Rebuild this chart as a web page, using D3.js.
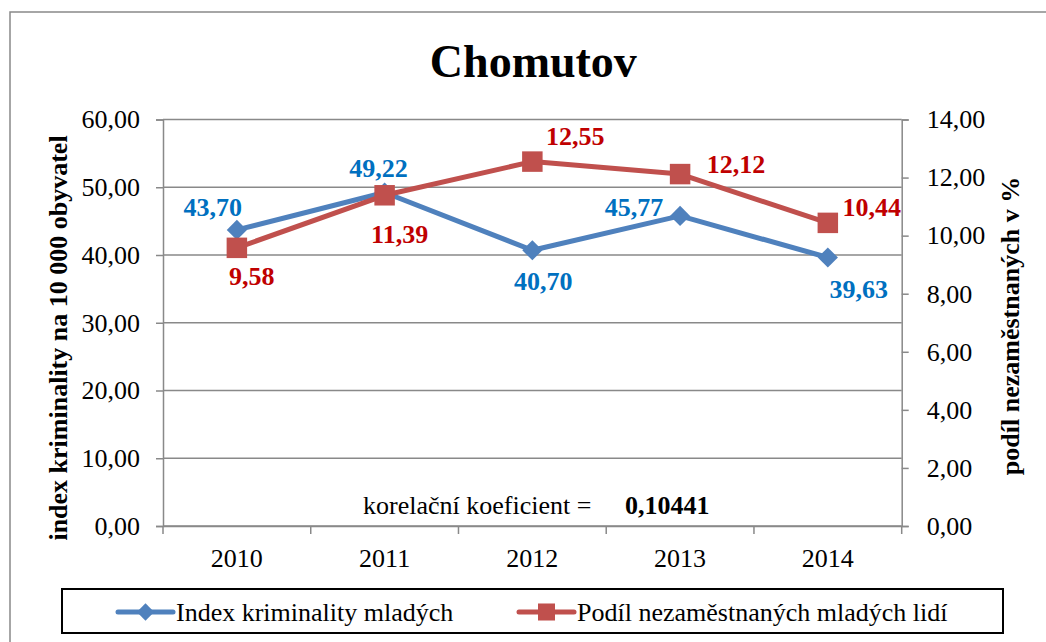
<!DOCTYPE html>
<html>
<head>
<meta charset="utf-8">
<script src="https://cdn.jsdelivr.net/npm/d3@7"></script>
<style>
  body { margin: 0; background: #fff; }
  svg text { font-family: "Liberation Serif", "Times New Roman", serif; }
</style>
</head>
<body>
<svg id="chart" width="1046" height="642"></svg>
<script>
// data
var years = ["2010", "2011", "2012", "2013", "2014"];
var crimeIndex = [43.70, 49.22, 40.70, 45.77, 39.63];
var unemployed = [9.58, 11.39, 12.55, 12.12, 10.44];
var leftTicks = [0, 10, 20, 30, 40, 50, 60];
var rightTicks = [0, 2, 4, 6, 8, 10, 12, 14];
var seriesNames = ["Index kriminality mladých", "Podíl nezaměstnaných mladých lidí"];
var correlation = "0,10441";

// label offsets from their point (dx, dy) - placed by hand like in the source sheet
var crimeLabelOff = [[-24, -14], [-6, -16], [11, 40], [-46, 0], [31, 40]];
var unempLabelOff = [[15, 37], [15, 48], [43, -17], [56, -1], [44, -7]];

var plot = { left: 163, right: 901.7, top: 119.5, bottom: 526 };
var blue = "#4F81BD", red = "#C0504D";
var blueTxt = "#0070C0", redTxt = "#C00000";
var gridCol = "#898989";
var serif = "'Liberation Serif', 'Times New Roman', serif";

var fmt = function(v) { return d3.format(".2f")(v).replace(".", ","); };

var svg = d3.select("#chart");

// outer chart border (runs past the picture at right and bottom)
svg.append("rect")
    .attr("x", 10).attr("y", 12)
    .attr("width", 1100).attr("height", 700)
    .attr("fill", "#fff")
    .attr("stroke", gridCol).attr("stroke-width", 1.5);

var x = d3.scaleBand().domain(years).range([plot.left, plot.right]).padding(0);
var xEdge = d3.scaleLinear().domain([0, years.length]).range([plot.left, plot.right]);
var yL = d3.scaleLinear().domain([0, 60]).range([plot.bottom, plot.top]);
var yR = d3.scaleLinear().domain([0, 14]).range([plot.bottom, plot.top]);
var cx = function(i) { return x(years[i]) + x.bandwidth() / 2; };

// title
svg.append("text")
    .attr("x", (plot.left + plot.right) / 2 + 1).attr("y", 77)
    .attr("text-anchor", "middle")
    .attr("font-size", 46).attr("font-weight", "bold")
    .text("Chomutov");

// gridlines
svg.append("g").selectAll("line")
    .data(leftTicks)
    .join("line")
    .attr("x1", plot.left).attr("x2", plot.right)
    .attr("y1", function(d) { return yL(d); })
    .attr("y2", function(d) { return yL(d); })
    .attr("stroke", gridCol).attr("stroke-width", 1.5);

// left axis
var axL = svg.append("g")
    .attr("transform", "translate(" + plot.left + ",0)")
    .call(d3.axisLeft(yL).tickValues(leftTicks).tickFormat(fmt).tickSize(7).tickPadding(16));
axL.select(".domain").attr("stroke", gridCol).attr("stroke-width", 1.5);
axL.selectAll(".tick line").attr("stroke", gridCol).attr("stroke-width", 1.5);
axL.selectAll(".tick text").attr("font-size", 26).attr("fill", "#000");

// right axis
var axR = svg.append("g")
    .attr("transform", "translate(" + plot.right + ",0)")
    .call(d3.axisRight(yR).tickValues(rightTicks).tickFormat(fmt).tickSize(7).tickPadding(18));
axR.select(".domain").attr("stroke", gridCol).attr("stroke-width", 1.5);
axR.selectAll(".tick line").attr("stroke", gridCol).attr("stroke-width", 1.5);
axR.selectAll(".tick text").attr("font-size", 26).attr("fill", "#000");

// bottom axis: labels centred in bands, tick marks on band edges
var axB = svg.append("g")
    .attr("transform", "translate(0," + plot.bottom + ")")
    .call(d3.axisBottom(x).tickSize(0).tickPadding(23));
axB.select(".domain").attr("stroke", gridCol).attr("stroke-width", 1.5);
axB.selectAll(".tick text").attr("font-size", 26).attr("fill", "#000");
svg.append("g").selectAll("line")
    .data(d3.range(years.length + 1))
    .join("line")
    .attr("x1", function(d) { return xEdge(d); })
    .attr("x2", function(d) { return xEdge(d); })
    .attr("y1", plot.bottom).attr("y2", plot.bottom + 8)
    .attr("stroke", gridCol).attr("stroke-width", 1.5);

// axis titles
svg.append("text")
    .attr("transform", "translate(67,338) rotate(-90)")
    .attr("text-anchor", "middle")
    .attr("font-size", 26).attr("font-weight", "bold")
    .text("index kriminality na 10 000 obyvatel");
svg.append("text")
    .attr("transform", "translate(1019,326) rotate(-90)")
    .attr("text-anchor", "middle")
    .attr("font-size", 26).attr("font-weight", "bold")
    .text("podíl nezaměstnaných v %");

// series lines
var lineL = d3.line().x(function(d, i) { return cx(i); }).y(function(d) { return yL(d); });
var lineR = d3.line().x(function(d, i) { return cx(i); }).y(function(d) { return yR(d); });

svg.append("path").datum(crimeIndex)
    .attr("d", lineL).attr("fill", "none")
    .attr("stroke", blue).attr("stroke-width", 5).attr("stroke-linejoin", "round");
svg.append("path").datum(unemployed)
    .attr("d", lineR).attr("fill", "none")
    .attr("stroke", red).attr("stroke-width", 5).attr("stroke-linejoin", "round");

var diamond = d3.symbol().type(d3.symbolDiamond2).size(260);
var square = d3.symbol().type(d3.symbolSquare).size(420);

svg.append("g").selectAll("path")
    .data(crimeIndex)
    .join("path")
    .attr("d", diamond)
    .attr("transform", function(d, i) { return "translate(" + cx(i) + "," + yL(d) + ")"; })
    .attr("fill", blue);
svg.append("g").selectAll("path")
    .data(unemployed)
    .join("path")
    .attr("d", square)
    .attr("transform", function(d, i) { return "translate(" + cx(i) + "," + yR(d) + ")"; })
    .attr("fill", red);

// data labels
svg.append("g").selectAll("text")
    .data(crimeIndex)
    .join("text")
    .attr("x", function(d, i) { return cx(i) + crimeLabelOff[i][0]; })
    .attr("y", function(d, i) { return yL(d) + crimeLabelOff[i][1]; })
    .attr("text-anchor", "middle")
    .attr("font-size", 26).attr("font-weight", "bold")
    .attr("fill", blueTxt)
    .text(fmt);
svg.append("g").selectAll("text")
    .data(unemployed)
    .join("text")
    .attr("x", function(d, i) { return cx(i) + unempLabelOff[i][0]; })
    .attr("y", function(d, i) { return yR(d) + unempLabelOff[i][1]; })
    .attr("text-anchor", "middle")
    .attr("font-size", 26).attr("font-weight", "bold")
    .attr("fill", redTxt)
    .text(fmt);

// correlation note
svg.append("text")
    .attr("x", 363).attr("y", 514)
    .attr("font-size", 26)
    .text("korelační koeficient =");
svg.append("text")
    .attr("x", 625).attr("y", 514)
    .attr("font-size", 26).attr("font-weight", "bold")
    .text(correlation);

// legend
var leg = svg.append("g");
leg.append("rect")
    .attr("x", 62).attr("y", 589)
    .attr("width", 941).attr("height", 44)
    .attr("fill", "#fff").attr("stroke", "#000").attr("stroke-width", 2);

var legItems = [
  { x: 118, color: blue, sym: d3.symbol().type(d3.symbolDiamond2).size(190), name: seriesNames[0] },
  { x: 519, color: red, sym: d3.symbol().type(d3.symbolSquare).size(290), name: seriesNames[1] }
];
var li = leg.selectAll("g.item")
    .data(legItems)
    .join("g")
    .attr("class", "item")
    .attr("transform", function(d) { return "translate(" + d.x + ",612)"; });
li.append("line")
    .attr("x1", 0).attr("x2", 55)
    .attr("stroke", function(d) { return d.color; })
    .attr("stroke-width", 5).attr("stroke-linecap", "round");
li.append("path")
    .attr("d", function(d) { return d.sym(); })
    .attr("transform", "translate(27.5,0)")
    .attr("fill", function(d) { return d.color; });
li.append("text")
    .attr("x", 58).attr("y", 9)
    .attr("font-size", 26)
    .text(function(d) { return d.name; });

// every text in Times-like serif
svg.selectAll("text").style("font-family", serif);
</script>
</body>
</html>
